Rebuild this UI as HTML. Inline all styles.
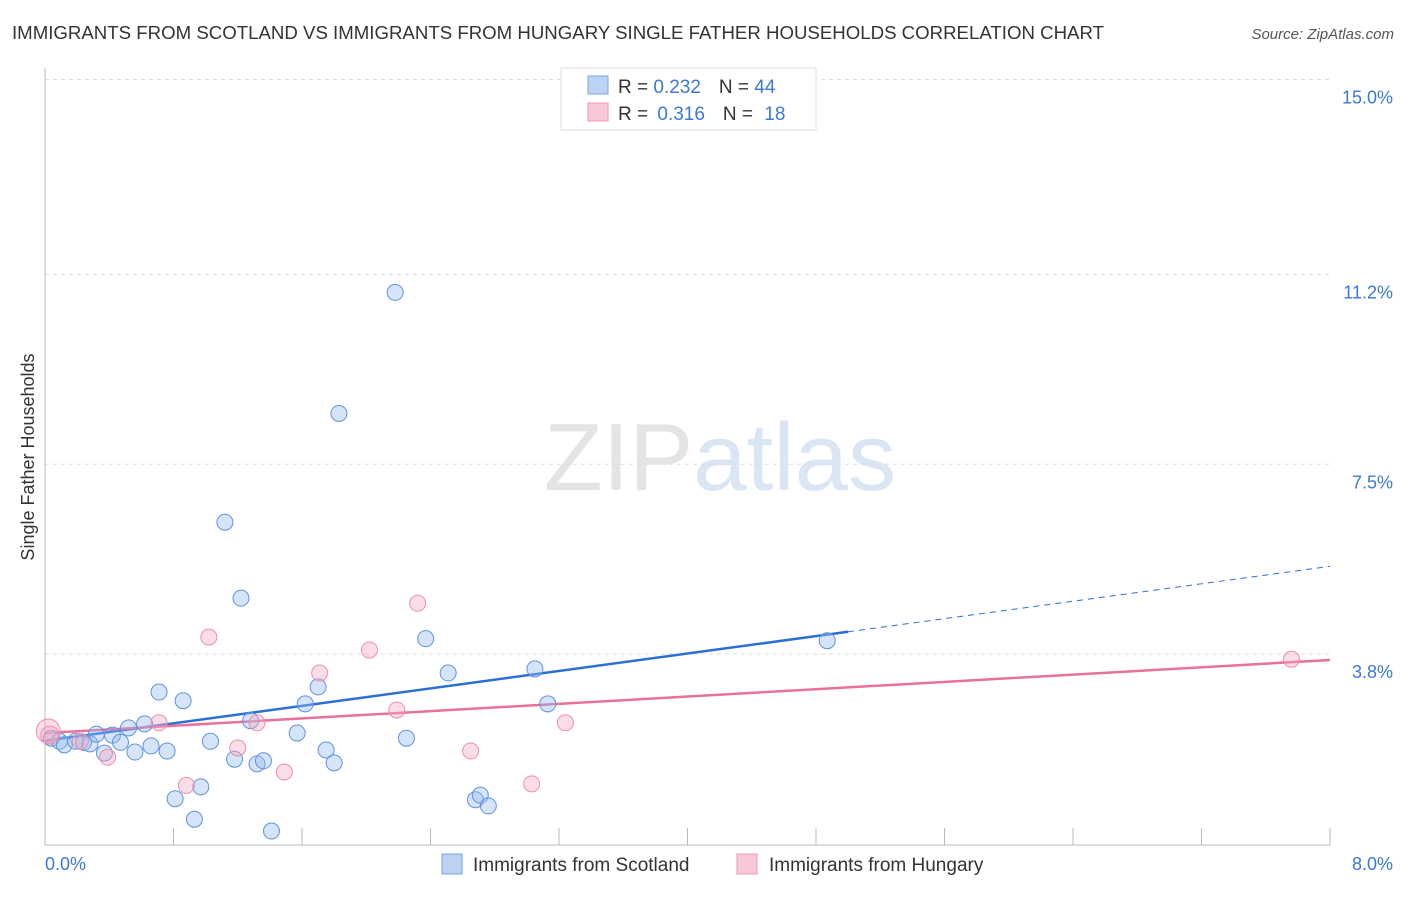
<!DOCTYPE html>
<html><head><meta charset="utf-8"><style>
body{margin:0;background:#fff;font-family:"Liberation Sans",sans-serif;}
svg text{font-family:"Liberation Sans",sans-serif;}
</style></head><body>
<svg id="chart" width="1406" height="892" xmlns="http://www.w3.org/2000/svg">
<text x="12" y="39" font-size="18" fill="#333" textLength="1092" lengthAdjust="spacingAndGlyphs">IMMIGRANTS FROM SCOTLAND VS IMMIGRANTS FROM HUNGARY SINGLE FATHER HOUSEHOLDS CORRELATION CHART</text>
<text x="1394" y="39" font-size="15" fill="#555" text-anchor="end" font-style="italic">Source: ZipAtlas.com</text>
<text x="720" y="490" font-size="96" text-anchor="middle" fill="#e4e4e4" font-family="Liberation Serif">ZIP<tspan fill="#dbe6f5" font-family="Liberation Sans">atlas</tspan></text>
<g id="grid"></g>
<line x1="45" y1="68" x2="45" y2="845" stroke="#bbb"/>
<line x1="45" y1="845" x2="1330" y2="845" stroke="#bbb"/>
<g id="xticks"></g>
<text transform="translate(34,457) rotate(-90)" font-size="18" fill="#333" text-anchor="middle">Single Father Households</text>
<text x="45" y="870" font-size="18" fill="#3b78d8">0.0%</text>
<text x="1393" y="870" font-size="18" fill="#3b78d8" text-anchor="end">8.0%</text>
<g id="lines"></g>
<g id="points"></g>
<g>
<rect x="561" y="68" width="255" height="62" fill="#fff" stroke="#ddd"/>
<rect x="588" y="76" width="20" height="18" fill="#bcd3f3" stroke="#7aa5e6"/>
<rect x="588" y="103" width="20" height="18" fill="#f8c8d6" stroke="#ec9ab4"/>
<text x="618" y="93" font-size="19" fill="#333">R = <tspan fill="#3b78d8">0.232</tspan><tspan dx="18">N = </tspan><tspan fill="#3b78d8">44</tspan></text>
<text x="618" y="120" font-size="19" fill="#333">R = <tspan fill="#3b78d8" dx="4">0.316</tspan><tspan dx="18">N = </tspan><tspan fill="#3b78d8" dx="6">18</tspan></text>
</g>
<g>
<rect x="442" y="854" width="20" height="20" fill="#bcd3f3" stroke="#7aa5e6"/>
<text x="473" y="871" font-size="19" fill="#333">Immigrants from Scotland</text>
<rect x="737" y="854" width="20" height="20" fill="#f8c8d6" stroke="#ec9ab4"/>
<text x="769" y="871" font-size="19" fill="#333">Immigrants from Hungary</text>
</g>
</svg>
<script>
const yTicks=[3.8,7.5,11.2,15.0];
const yTickLabels=["3.8%","7.5%","11.2%","15.0%"];
const scotX=[0.04,0.09,0.12,0.19,0.24,0.28,0.32,0.37,0.42,0.47,0.52,0.56,0.62,0.66,0.71,0.76,0.81,0.86,0.93,0.97,1.03,1.12,1.18,1.22,1.28,1.32,1.36,1.41,1.57,1.62,1.70,1.75,1.80,1.83,2.18,2.25,2.37,2.51,2.68,2.71,2.76,3.05,3.13,4.87];
const scotY=[2.16,2.10,2.03,2.10,2.08,2.05,2.24,1.87,2.22,2.08,2.36,1.89,2.44,2.01,3.06,1.91,0.98,2.89,0.58,1.21,2.10,6.37,1.75,4.89,2.50,1.66,1.72,0.35,2.26,2.83,3.16,1.93,1.68,8.49,10.85,2.16,4.10,3.43,0.96,1.05,0.84,3.51,2.83,4.06];
const hungX=[0.02,0.03,0.22,0.39,0.71,0.88,1.02,1.20,1.32,1.49,1.71,2.02,2.19,2.32,2.65,3.03,3.24,7.76];
const hungY=[2.30,2.22,2.10,1.79,2.46,1.24,4.13,1.97,2.46,1.50,3.43,3.88,2.71,4.79,1.91,1.27,2.46,3.70];
const hungR=[12,9,8,8,8,8,8,8,8,8,8,8,8,8,8,8,8,8];
const scotLine=[2.11,0.425];
const hungLine=[2.26,0.178];
const X=v=>45+v/8*1285, Y=v=>849-v*51.3;
const NS="http://www.w3.org/2000/svg";
function mk(tag,attrs,parent){const e=document.createElementNS(NS,tag);for(const k in attrs)e.setAttribute(k,attrs[k]);document.getElementById(parent).appendChild(e);return e;}
yTicks.forEach((t,i)=>{
 const l=mk('line',{x1:45,x2:1330,y1:Y(t),y2:Y(t),stroke:'#ddd','stroke-dasharray':'4,4'},'grid');
 
 
 const tx=mk('text',{x:1393,y:Y(t)+24,'font-size':18,fill:'#3b78d8','text-anchor':'end'},'grid');
 tx.textContent=yTickLabels[i];
 
 
});
for(let i=1;i<=10;i++){
 const l=mk('line',{x1:X(i*0.8),x2:X(i*0.8),y1:828,y2:845,stroke:'#bbb'},'xticks');
 
 
}
scotX.forEach((x,i)=>{
 const c=mk('circle',{cx:X(x),cy:Y(scotY[i]),r:8,fill:'rgba(150,188,240,0.4)',stroke:'#5d93e0','stroke-width':1},'points');
 
 
});
hungX.forEach((x,i)=>{
 const c=mk('circle',{cx:X(x),cy:Y(hungY[i]),r:hungR[i],fill:'rgba(245,170,195,0.4)',stroke:'#ec8eae','stroke-width':1},'points');
 
 
});
const sEnd=5.0;
let l1=mk('line',{x1:X(0),y1:Y(scotLine[0]),x2:X(sEnd),y2:Y(scotLine[0]+scotLine[1]*sEnd),stroke:'#2a6fd6','stroke-width':2.5},'lines');


let l2=mk('line',{x1:X(sEnd),y1:Y(scotLine[0]+scotLine[1]*sEnd),x2:X(8),y2:Y(scotLine[0]+scotLine[1]*8),stroke:'#2a6fd6','stroke-width':1,'stroke-dasharray':'6,5'},'lines');


let l3=mk('line',{x1:X(0),y1:Y(hungLine[0]),x2:X(8),y2:Y(hungLine[0]+hungLine[1]*8),stroke:'#e8709a','stroke-width':2.5},'lines');


</script>
</body></html>
